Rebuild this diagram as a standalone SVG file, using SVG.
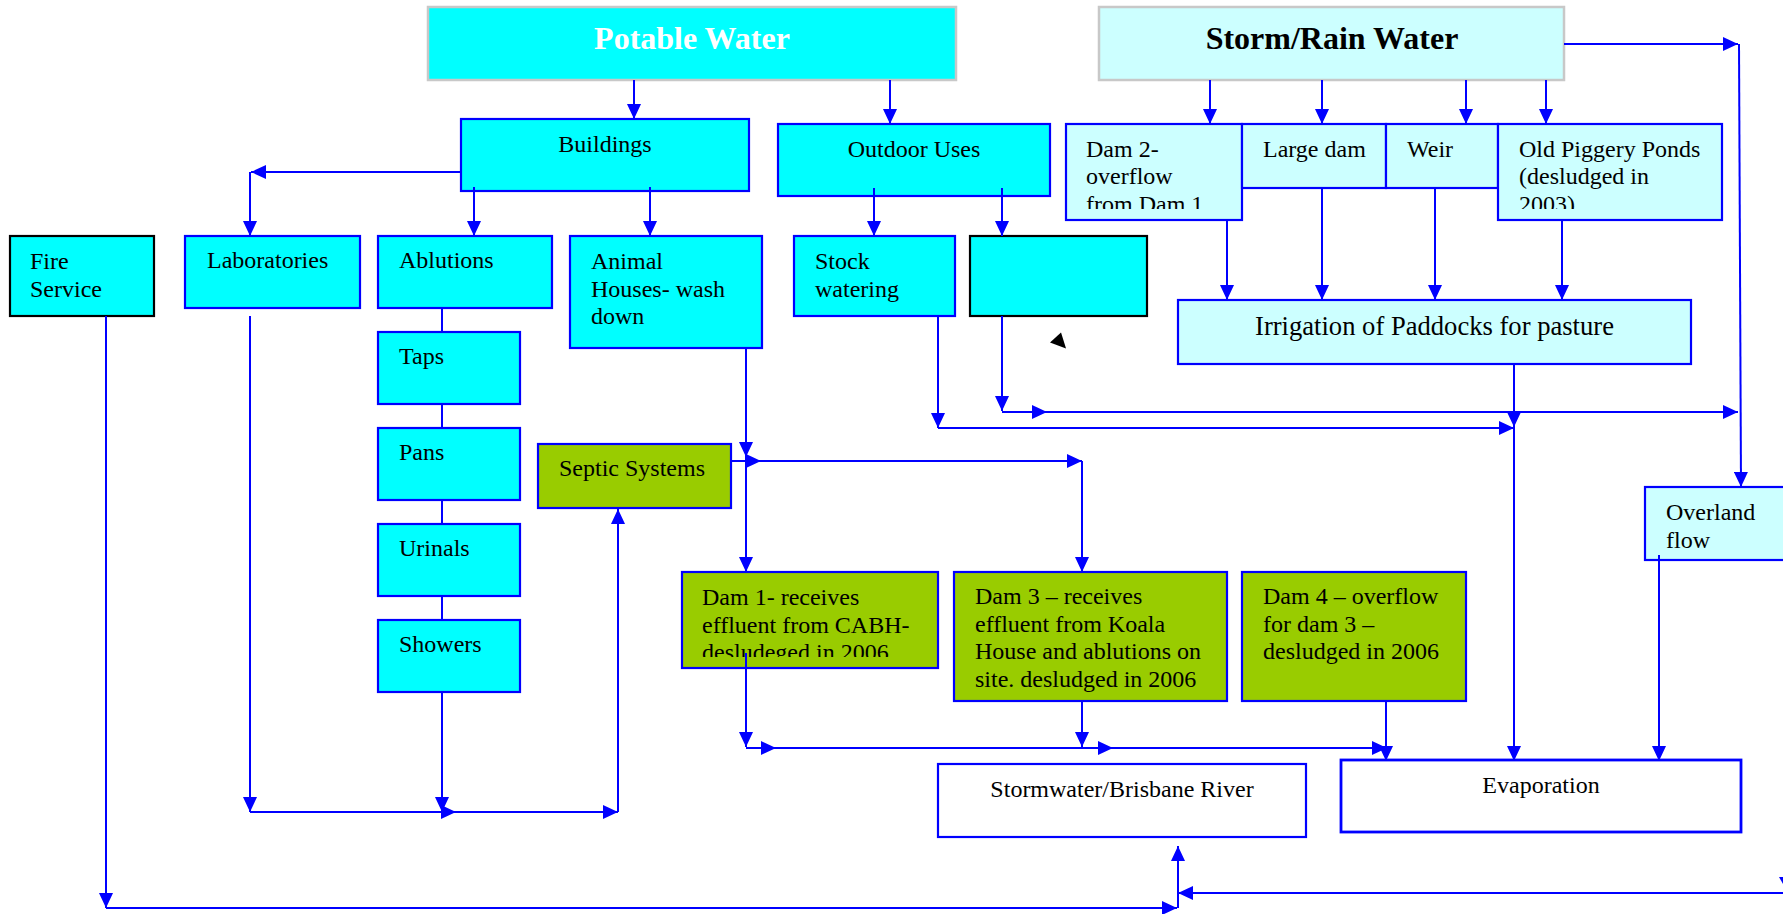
<svg xmlns="http://www.w3.org/2000/svg" width="1783" height="914" viewBox="0 0 1783 914">
<style>
text{font-family:"Liberation Serif","Times New Roman",serif;font-size:24px;fill:#000}
.title{font-size:32px;font-weight:bold}
.w{fill:#fff}
.cy{fill:#00ffff;stroke:#0000ff;stroke-width:2.2}
.cyk{fill:#00ffff;stroke:#000;stroke-width:2.2}
.lc{fill:#ccffff;stroke:#0000ff;stroke-width:2.2}
.gr{fill:#99cc00;stroke:#0000ff;stroke-width:2.2}
.wh{fill:#fff;stroke:#0000ff;stroke-width:2.2}
.head{stroke:#c8c8c8;stroke-width:2.5}
.c line,.c path{stroke:#0000ff;stroke-width:2;fill:none}
.a{marker-end:url(#arr)}
</style>
<defs>
<marker id="arr" markerUnits="userSpaceOnUse" markerWidth="16" markerHeight="14" refX="15" refY="7" orient="auto" viewBox="0 0 16 14">
<path d="M0,0 L15,7 L0,14 z" fill="#0000ff"/>
</marker>
<clipPath id="clipDam1"><rect x="682" y="572" width="257" height="85"/></clipPath>
<clipPath id="clipDam2"><rect x="1065" y="124" width="178" height="85"/></clipPath>
<clipPath id="clipPig"><rect x="1498" y="124" width="224" height="85"/></clipPath>
</defs>
<rect width="1783" height="914" fill="#fff"/>

<g id="potable">
<rect x="428" y="7" width="528" height="73" fill="#00ffff" class="head"/>
<text class="title w" x="692" y="49" text-anchor="middle">Potable Water</text>
</g>
<g id="storm">
<rect x="1099" y="7" width="465" height="73" fill="#ccffff" class="head"/>
<text class="title" x="1332" y="49" text-anchor="middle">Storm/Rain Water</text>
</g>
<g id="buildings">
<rect x="461" y="119" width="288" height="72" class="cy"/>
<text x="605" y="152" text-anchor="middle">Buildings</text>
</g>
<g id="outdoor">
<rect x="778" y="124" width="272" height="72" class="cy"/>
<text x="914" y="157" text-anchor="middle">Outdoor Uses</text>
</g>
<g id="dam2">
<rect x="1066" y="124" width="176" height="96" class="lc"/>
<g clip-path="url(#clipDam2)">
<text x="1086" y="157">Dam 2-</text>
<text x="1086" y="184">overflow</text>
<text x="1086" y="211.5">from Dam 1</text>
</g>
</g>
<g id="largedam">
<rect x="1242" y="124" width="144" height="64" class="lc"/>
<text x="1263" y="157">Large dam</text>
</g>
<g id="weir">
<rect x="1386" y="124" width="112" height="64" class="lc"/>
<text x="1407" y="157">Weir</text>
</g>
<g id="piggery">
<rect x="1498" y="124" width="224" height="96" class="lc"/>
<g clip-path="url(#clipPig)">
<text x="1519" y="157">Old Piggery Ponds</text>
<text x="1519" y="184">(desludged in</text>
<text x="1519" y="211.5">2003)</text>
</g>
</g>
<g id="fire">
<rect x="10" y="236" width="144" height="80" class="cyk"/>
<text x="30" y="269">Fire</text>
<text x="30" y="297">Service</text>
</g>
<g id="labs">
<rect x="185" y="236" width="175" height="72" class="cy"/>
<text x="207" y="268">Laboratories</text>
</g>
<g id="ablutions">
<rect x="378" y="236" width="174" height="72" class="cy"/>
<text x="399" y="268">Ablutions</text>
</g>
<g id="animal">
<rect x="570" y="236" width="192" height="112" class="cy"/>
<text x="591" y="269">Animal</text>
<text x="591" y="296.5">Houses- wash</text>
<text x="591" y="324">down</text>
</g>
<g id="stock">
<rect x="794" y="236" width="161" height="80" class="cy"/>
<text x="815" y="269">Stock</text>
<text x="815" y="297">watering</text>
</g>
<g id="blank">
<rect x="970" y="236" width="177" height="80" class="cyk"/>
</g>
<g id="irrigation">
<rect x="1178" y="300" width="513" height="64" class="lc"/>
<text x="1434.5" y="335" text-anchor="middle" style="font-size:26.6px">Irrigation of Paddocks for pasture</text>
</g>
<g id="taps">
<rect x="378" y="332" width="142" height="72" class="cy"/>
<text x="399" y="364">Taps</text>
</g>
<g id="pans">
<rect x="378" y="428" width="142" height="72" class="cy"/>
<text x="399" y="460">Pans</text>
</g>
<g id="urinals">
<rect x="378" y="524" width="142" height="72" class="cy"/>
<text x="399" y="556">Urinals</text>
</g>
<g id="showers">
<rect x="378" y="620" width="142" height="72" class="cy"/>
<text x="399" y="652">Showers</text>
</g>
<g id="septic">
<rect x="538" y="444" width="193" height="64" class="gr"/>
<text x="559" y="476">Septic Systems</text>
</g>
<g id="overland">
<rect x="1645" y="487" width="150" height="73" class="lc"/>
<text x="1666" y="520">Overland</text>
<text x="1666" y="547.5">flow</text>
</g>
<g id="dam1">
<rect x="682" y="572" width="256" height="96" class="gr"/>
<g clip-path="url(#clipDam1)">
<text x="702" y="605">Dam 1- receives</text>
<text x="702" y="632.5">effluent from CABH-</text>
<text x="702" y="660">desludeged in 2006</text>
</g>
</g>
<g id="dam3">
<rect x="954" y="572" width="273" height="129" class="gr"/>
<text x="975" y="604">Dam 3 – receives</text>
<text x="975" y="631.5">effluent from Koala</text>
<text x="975" y="659">House and ablutions on</text>
<text x="975" y="686.5">site. desludged in 2006</text>
</g>
<g id="dam4">
<rect x="1242" y="572" width="224" height="129" class="gr"/>
<text x="1263" y="604">Dam 4 – overflow</text>
<text x="1263" y="631.5">for dam 3 –</text>
<text x="1263" y="659">desludged in 2006</text>
</g>
<g id="stormwater">
<rect x="938" y="764" width="368" height="73" class="wh"/>
<text x="1122" y="796.5" text-anchor="middle">Stormwater/Brisbane River</text>
</g>
<g id="evaporation">
<rect x="1341" y="760" width="400" height="72" class="wh" style="stroke-width:2.8"/>
<text x="1541" y="792.5" text-anchor="middle">Evaporation</text>
</g>

<g id="connectors" class="c">
<path class="a" d="M634,80 V119"/>
<path class="a" d="M890,80 V124"/>
<path class="a" d="M461,172 H251"/>
<path class="a" d="M250,172 V236"/>
<path class="a" d="M474,187 V236"/>
<path class="a" d="M650,187 V236"/>
<path class="a" d="M874,188 V236"/>
<path class="a" d="M1002,188 V236"/>
<path class="a" d="M1210,80 V124"/>
<path class="a" d="M1322,80 V124"/>
<path class="a" d="M1466,80 V124"/>
<path class="a" d="M1546,80 V124"/>
<path class="a" d="M1564,44 H1738"/>
<path class="a" d="M1739,44 L1741,487"/>
<path class="a" d="M1227,221 V300"/>
<path class="a" d="M1322,188 V300"/>
<path class="a" d="M1435,188 V300"/>
<path class="a" d="M1562,221 V300"/>
<path d="M442,308 V332 M442,404 V428 M442,500 V524 M442,596 V620"/>
<path class="a" d="M106,316 V908"/>
<path class="a" d="M106,908 H1177"/>
<path class="a" d="M250,316 V812"/>
<path class="a" d="M250,812 H456"/>
<path class="a" d="M442,692 V812"/>
<path class="a" d="M442,812 H618"/>
<path class="a" d="M618,812 V509"/>
<path class="a" d="M746,348 V457"/>
<path class="a" d="M746,457 V572"/>
<path class="a" d="M731,461 H761"/>
<path class="a" d="M746,461 H1082"/>
<path class="a" d="M1082,461 V572"/>
<path class="a" d="M938,316 V428"/>
<path class="a" d="M938,428 H1514"/>
<path class="a" d="M1002,316 V411"/>
<path class="a" d="M1002,412 H1047"/>
<path class="a" d="M1040,412 H1738"/>
<path class="a" d="M1514,364 V427"/>
<path class="a" d="M1514,427 V761"/>
<path class="a" d="M1659,555 V761"/>
<path class="a" d="M746,653 V747"/>
<path class="a" d="M746,748 H776"/>
<path class="a" d="M770,748 H1113"/>
<path class="a" d="M1082,701 V747"/>
<path class="a" d="M1105,748 H1387"/>
<path class="a" d="M1386,701 V761"/>
<path class="a" d="M1178,908 V846"/>
<path class="a" d="M1783,893 H1178"/>
<polygon points="1779,877 1795,877 1787,891" fill="#0000ff"/>
</g>
<g id="stray-mark">
<polygon points="1061,332.5 1050,342.5 1066,348.5" fill="#000"/>
</g>
</svg>
